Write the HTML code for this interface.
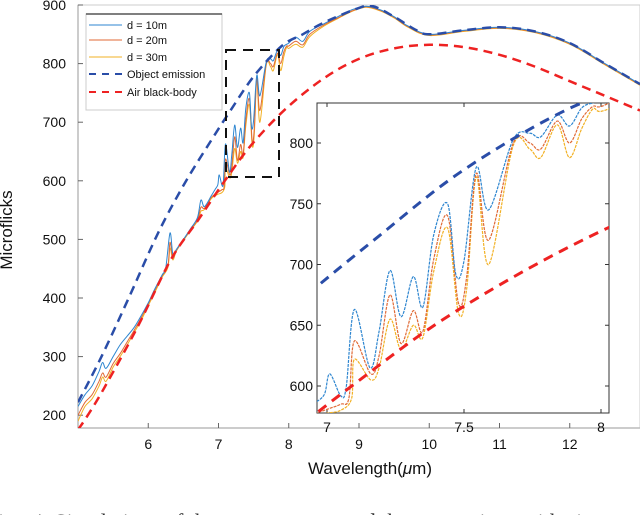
<!DOCTYPE html>
<html><head><meta charset="utf-8"><style>
html,body{margin:0;padding:0;background:#fff;width:640px;height:515px;overflow:hidden}
svg{display:block;font-family:"Liberation Sans",sans-serif}
</style></head><body>
<svg id="chart" width="640" height="515" viewBox="0 0 640 515" xmlns="http://www.w3.org/2000/svg">
<defs>
<clipPath id="mainClip"><rect x="78" y="5" width="562" height="423"/></clipPath>
<clipPath id="insetClip"><rect x="317" y="103" width="292" height="310"/></clipPath>
</defs>
<g id="main"></g>
<g id="inset"></g>
<text x="12" y="230" transform="rotate(-90 12 230)" text-anchor="middle" font-size="17" fill="#111">Microflicks</text>
<text x="370" y="474" text-anchor="middle" font-size="17" fill="#111">Wavelength(<tspan font-style="italic">μ</tspan>m)</text>
<text x="-8" y="529" font-size="22" font-family="Liberation Serif,serif" fill="#333">tion 4: Simulations of the measurement and the comparison with air</text>
</svg>
<script>
const emisX=[5,5.33,5.71,6.14,6.52,6.89,7.16,7.5,7.9,8.2,8.5,9,9.2,9.5,9.8,10,10.5,11,11.5,12,12.5,13];
const emisY=[222,299,397,511,596,668,718,778,830,850,870,895,898,880,858,850,857,862,855,835,800,765];
const bbX=[5,5.14,5.38,5.85,6.32,6.71,7.09,7.46,7.95,8.5,9,9.5,10,10.5,11,11.5,12,12.5,13];
const bbY=[175,200,248,351,465,533,600,660,722,775,808,826,832,828,815,795,770,745,720];
const d10X=[5,5.1,5.2,5.3,5.35,5.4,5.5,5.6,5.7,5.8,5.9,6,6.1,6.2,6.25,6.31,6.35,6.4,6.5,6.6,6.7,6.75,6.8,6.9,6.95,6.99,7.01,7.05,7.07,7.10,7.157,7.19,7.23,7.27,7.315,7.35,7.39,7.44,7.47,7.5,7.545,7.59,7.68,7.74,7.78,7.84,7.885,7.93,7.97,8.0,8.1,8.2,8.3,8.5,8.7,8.9,9.1,9.3,9.5,9.7,10,10.5,11,11.5,12,12.5,13];
const d10Y=[215,235,250,275,290,280,300,320,335,350,370,392,417,440,452,511,475,483,500,518,537,567,556,575,585,593,610,592,599,663,615,645,695,657,690,665,725,750,692,703,780,745,803,808,805,823,814,829,833,835,845,838,855,868,880,892,898,892,880,864,850,857,862,855,835,800,765];
const d20X=[5,5.1,5.2,5.3,5.35,5.4,5.5,5.6,5.7,5.8,5.9,6,6.1,6.2,6.28,6.31,6.35,6.4,6.5,6.6,6.7,6.75,6.8,6.9,6.99,7.05,7.08,7.10,7.16,7.19,7.23,7.27,7.315,7.35,7.39,7.44,7.48,7.51,7.545,7.59,7.68,7.74,7.78,7.84,7.885,7.93,7.97,8.0,8.1,8.2,8.3,8.5,8.7,8.9,9.1,9.3,9.5,9.7,10,10.5,11,11.5,12,12.5,13];
const d20Y=[200,222,235,258,272,265,288,305,325,345,366,390,414,438,455,495,468,481,499,516,533,555,553,572,580,585,590,637,610,625,675,635,662,645,705,740,668,690,775,720,800,800,795,818,800,820,830,830,838,832,850,866,878,890,897,891,879,863,849,856,861,854,834,799,764];
const d30X=[5,5.1,5.2,5.3,5.35,5.4,5.5,5.6,5.7,5.8,5.9,6,6.1,6.2,6.28,6.31,6.35,6.4,6.5,6.6,6.7,6.75,6.8,6.9,6.99,7.05,7.09,7.10,7.16,7.19,7.23,7.27,7.315,7.35,7.39,7.44,7.48,7.51,7.545,7.59,7.68,7.74,7.78,7.84,7.885,7.93,7.97,8.0,8.1,8.2,8.3,8.5,8.7,8.9,9.1,9.3,9.5,9.7,10,10.5,11,11.5,12,12.5,13];
const d30Y=[190,215,228,250,265,258,282,300,320,341,362,387,411,436,452,485,465,480,498,515,531,548,551,570,577,580,590,622,605,615,655,630,650,640,695,730,660,680,772,700,798,795,788,815,788,812,828,826,833,828,846,864,877,889,896,890,878,862,848,855,860,853,833,798,763];
const mainXTicks=[6,7,8,9,10,11,12];
const mainYTicks=[200,300,400,500,600,700,800,900];
const insetXTicks=[7,7.5,8];
const insetYTicks=[600,650,700,750,800];

const NS='http://www.w3.org/2000/svg';
function mk(tag,attrs,parent){const e=document.createElementNS(NS,tag);for(const k in attrs)e.setAttribute(k,attrs[k]);parent.appendChild(e);return e;}
const mx=v=>78+(v-5)*(562/8);
const my=v=>5+(900-v)*0.586;
const ix=v=>327+(v-7)*274;
const iy=v=>143+(800-v)*1.215;
function smoothPath(xs,ys,fx,fy){
  const P=xs.map((x,i)=>[fx(x),fy(ys[i])]);
  let d='M'+P[0][0].toFixed(1)+','+P[0][1].toFixed(1);
  for(let i=0;i<P.length-1;i++){
    const p0=P[Math.max(0,i-1)],p1=P[i],p2=P[i+1],p3=P[Math.min(P.length-1,i+2)];
    const c1x=p1[0]+(p2[0]-p0[0])/6,c1y=p1[1]+(p2[1]-p0[1])/6;
    const c2x=p2[0]-(p3[0]-p1[0])/6,c2y=p2[1]-(p3[1]-p1[1])/6;
    d+=' C'+c1x.toFixed(1)+','+c1y.toFixed(1)+' '+c2x.toFixed(1)+','+c2y.toFixed(1)+' '+p2[0].toFixed(1)+','+p2[1].toFixed(1);
  }
  return d;
}

const main=document.getElementById('main');
const inset=document.getElementById('inset');
const frame=mk('rect',{x:78,y:5,width:562,height:423,fill:'none',stroke:'#ccc','stroke-width':1},main);


mk('line',{x1:78,y1:428,x2:640,y2:428,stroke:'#bbb','stroke-width':1.5},main);
mk('line',{x1:78,y1:5,x2:78,y2:428,stroke:'#bbb','stroke-width':1.5},main);
mainXTicks.forEach(t=>{
  mk('line',{x1:mx(t),y1:428,x2:mx(t),y2:423,stroke:'#666'},main);
  const tx=mk('text',{x:mx(t),y:449,'text-anchor':'middle','font-size':14,fill:'#111'},main);
  tx.textContent=t;
  
  
});
mainYTicks.forEach(t=>{
  mk('line',{x1:78,y1:my(t),x2:83,y2:my(t),stroke:'#666'},main);
  const tx=mk('text',{x:66,y:my(t)+5,'text-anchor':'end','font-size':14,fill:'#111'},main);
  tx.textContent=t;
  
  
});
const gm=mk('g',{'clip-path':'url(#mainClip)'},main);
function series(g,xs,ys,fx,fy,col,w,dash,name){
  const p=mk('path',{d:smoothPath(xs,ys,fx,fy),fill:'none',stroke:col,'stroke-width':w,'stroke-linejoin':'round'},g);
  if(dash)p.setAttribute('stroke-dasharray',dash);
  
  
}
series(gm,d30X,d30Y,mx,my,'#f2b124',1,null,'d30-line');
series(gm,d20X,d20Y,mx,my,'#e06a36',1,null,'d20-line');
series(gm,d10X,d10Y,mx,my,'#2e86d0',1,null,'d10-line');
series(gm,emisX,emisY,mx,my,'#2a4da8',2.5,'9,6','object-emission-line');
series(gm,bbX,bbY,mx,my,'#ee2222',2.5,'9,6','air-blackbody-line');
const zb=mk('rect',{x:226,y:50,width:53,height:127,fill:'none',stroke:'#111','stroke-width':2,'stroke-dasharray':'10,7'},main);



const lg=mk('g',{},main);


mk('rect',{x:86,y:14,width:136,height:96,fill:'#fff',stroke:'#ccc'},lg);
mk('line',{x1:86,y1:14,x2:222,y2:14,stroke:'#555','stroke-width':1.5},lg);
const le=[['d = 10m','#2e86d0',1,null],['d = 20m','#e06a36',1,null],['d = 30m','#f2b124',1,null],['Object emission','#2a4da8',2,'7,6'],['Air black-body','#ee2222',2,'7,6']];
const ly=[25,40,57,74,92];
le.forEach((e,i)=>{
  const l=mk('line',{x1:89,y1:ly[i],x2:122,y2:ly[i],stroke:e[1],'stroke-width':e[2]},lg);
  if(e[3])l.setAttribute('stroke-dasharray',e[3]);
  const t=mk('text',{x:127,y:ly[i]+4,'font-size':11,fill:'#111'},lg);
  t.textContent=e[0];
  
  
});

mk('rect',{x:317,y:103,width:292,height:310,fill:'#fff',stroke:'#333','stroke-width':1},inset);


insetXTicks.forEach(t=>{
  mk('line',{x1:ix(t),y1:413,x2:ix(t),y2:409,stroke:'#333'},inset);
  mk('line',{x1:ix(t),y1:103,x2:ix(t),y2:107,stroke:'#333'},inset);
  const tx=mk('text',{x:ix(t),y:432,'text-anchor':'middle','font-size':14,fill:'#111'},inset);
  tx.textContent=t;
  
  
});
insetYTicks.forEach(t=>{
  mk('line',{x1:317,y1:iy(t),x2:321,y2:iy(t),stroke:'#333'},inset);
  mk('line',{x1:609,y1:iy(t),x2:605,y2:iy(t),stroke:'#333'},inset);
  const tx=mk('text',{x:313,y:iy(t)+5,'text-anchor':'end','font-size':14,fill:'#111'},inset);
  tx.textContent=t;
  
  
});
const gi=mk('g',{'clip-path':'url(#insetClip)'},inset);
series(gi,d30X,d30Y,ix,iy,'#f2b124',1.2,'3,1','inset-d30-line');
series(gi,d20X,d20Y,ix,iy,'#e06a36',1.2,'3,1','inset-d20-line');
series(gi,d10X,d10Y,ix,iy,'#2e86d0',1.2,'3,1','inset-d10-line');
series(gi,emisX,emisY,ix,iy,'#2a4da8',3,'10,7','inset-object-emission-line');
series(gi,bbX,bbY,ix,iy,'#ee2222',3,'10,7','inset-air-blackbody-line');
</script>
</body></html>
